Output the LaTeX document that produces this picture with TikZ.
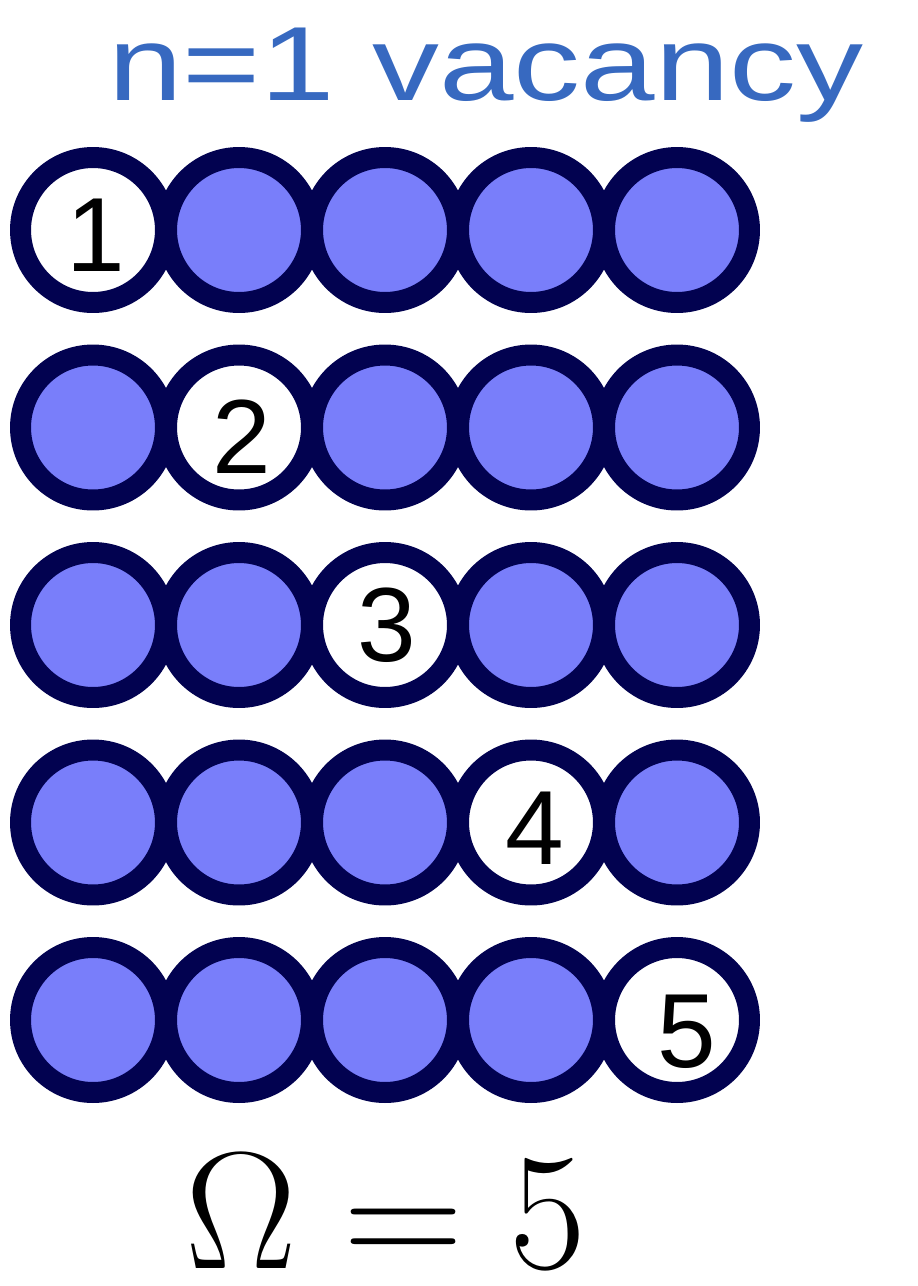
\RequirePackage{fix-cm}
\documentclass[tikz,border=0pt]{standalone}
\usepackage{fontspec}
\newfontfamily\handfont{Liberation Sans}

\begin{document}
\begin{tikzpicture}[x=0.02cm, y=-0.02cm,
  site/.style={circle, draw=siteBorder, line width=0.42cm, minimum size=2.9cm, inner sep=0pt, fill=siteFill},
  vacancy/.style={site, fill=white},
  digit/.style={text=black, font=\handfont\fontsize{60}{60}\selectfont}]

\definecolor{siteFill}{RGB}{121,126,250}
\definecolor{siteBorder}{RGB}{2,2,80}
\definecolor{handBlue}{RGB}{55,105,192}
\useasboundingbox (0,0) rectangle (918,1286);

% Title
\node[anchor=base west, text=handBlue, font=\handfont\fontsize{60}{60}\selectfont, inner sep=0pt] (title) at (108,100) {\scalebox{1.27}[1]{n=1 vacancy}};

% Row 1 (vacancy at site 1)
\node[vacancy] (s11) at (93,230) {};
\node[site] (s12) at (239,230) {};
\node[site] (s13) at (385,230) {};
\node[site] (s14) at (531,230) {};
\node[site] (s15) at (677,230) {};
\node[digit] (num1) at (96,235) {1};

% Row 2 (vacancy at site 2)
\node[site] (s21) at (93,427.5) {};
\node[vacancy] (s22) at (239,427.5) {};
\node[site] (s23) at (385,427.5) {};
\node[site] (s24) at (531,427.5) {};
\node[site] (s25) at (677,427.5) {};
\node[digit] (num2) at (242,437) {2};

% Row 3 (vacancy at site 3)
\node[site] (s31) at (93,625) {};
\node[site] (s32) at (239,625) {};
\node[vacancy] (s33) at (385,625) {};
\node[site] (s34) at (531,625) {};
\node[site] (s35) at (677,625) {};
\node[digit] (num3) at (387,625) {3};

% Row 4 (vacancy at site 4)
\node[site] (s41) at (93,822.5) {};
\node[site] (s42) at (239,822.5) {};
\node[site] (s43) at (385,822.5) {};
\node[vacancy] (s44) at (531,822.5) {};
\node[site] (s45) at (677,822.5) {};
\node[digit] (num4) at (535,828) {4};

% Row 5 (vacancy at site 5)
\node[site] (s51) at (93,1020) {};
\node[site] (s52) at (239,1020) {};
\node[site] (s53) at (385,1020) {};
\node[site] (s54) at (531,1020) {};
\node[vacancy] (s55) at (677,1020) {};
\node[digit] (num5) at (687,1032) {5};

% Number of configurations
\node[anchor=base, font=\fontsize{95}{100}\selectfont, inner sep=0pt] (omega) at (386,1268) {$\Omega = 5$};

\end{tikzpicture}
\end{document}
